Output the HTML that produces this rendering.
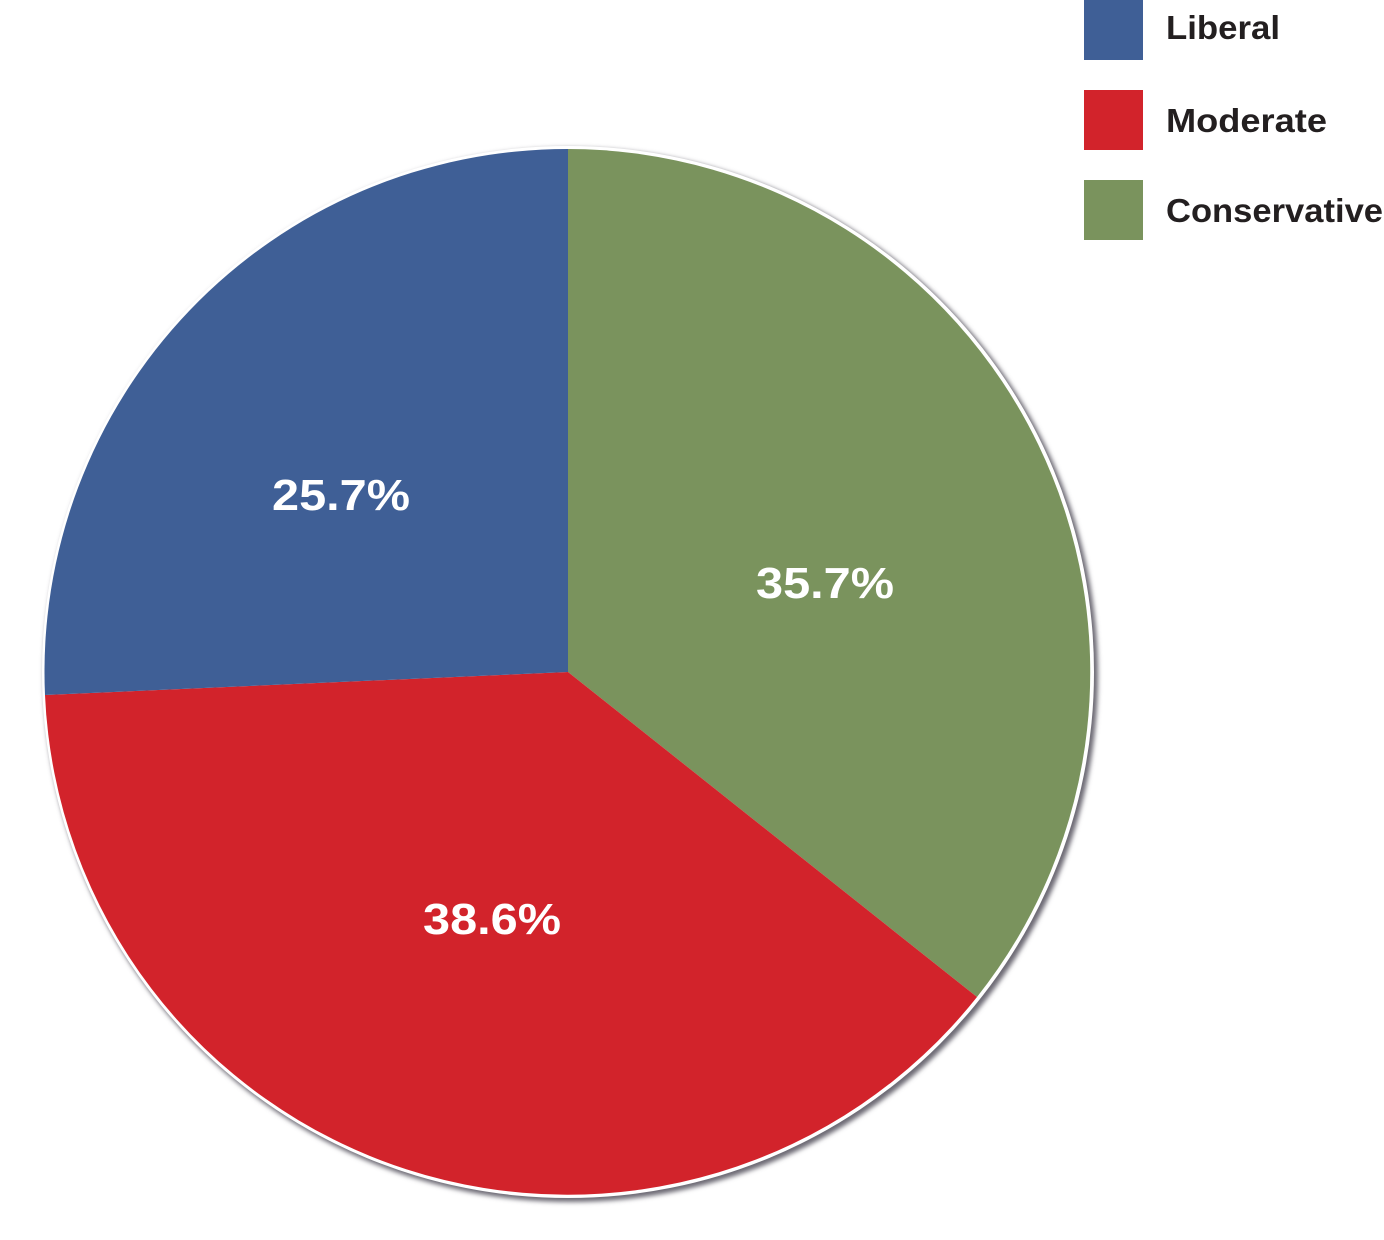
<!DOCTYPE html>
<html><head><meta charset="utf-8"><style>
html,body{margin:0;padding:0;background:#fff;}
svg{display:block;}
</style></head><body>
<svg width="1384" height="1240" viewBox="0 0 1384 1240" xmlns="http://www.w3.org/2000/svg">
<defs>
<filter id="sh" x="-10%" y="-10%" width="120%" height="120%">
<feGaussianBlur stdDeviation="2.5"/>
</filter>
</defs>
<circle cx="571" cy="675" r="527" fill="#6d6b74" filter="url(#sh)"/>
<circle cx="568" cy="672" r="526" fill="#fff"/>
<path d="M568,672 L568,149 A523,523 0 0 1 977,997 Z" fill="#7a935d"/>
<path d="M568,672 L977,997 A523,523 0 0 1 45,695 Z" fill="#d2232b"/>
<path d="M568,672 L45,695 A523,523 0 0 1 568,149 Z" fill="#3f5f96"/>
<g font-family="Liberation Sans, sans-serif" font-weight="bold" fill="#fff" font-size="44" lengthAdjust="spacingAndGlyphs">
<text x="272" y="510" textLength="138" lengthAdjust="spacingAndGlyphs">25.7%</text>
<text x="756" y="598" textLength="138" lengthAdjust="spacingAndGlyphs">35.7%</text>
<text x="423" y="934" textLength="138" lengthAdjust="spacingAndGlyphs">38.6%</text>
</g>
<rect x="1084" y="0" width="59" height="60" fill="#3f5f96"/>
<rect x="1084" y="90" width="59" height="60" fill="#d2232b"/>
<rect x="1084" y="180" width="59" height="60" fill="#7a935d"/>
<g font-family="Liberation Sans, sans-serif" font-weight="bold" fill="#231f20" font-size="33">
<text x="1166" y="39" textLength="114" lengthAdjust="spacingAndGlyphs">Liberal</text>
<text x="1166" y="132" textLength="161" lengthAdjust="spacingAndGlyphs">Moderate</text>
<text x="1166" y="222" textLength="217" lengthAdjust="spacingAndGlyphs">Conservative</text>
</g>
</svg>
</body></html>
